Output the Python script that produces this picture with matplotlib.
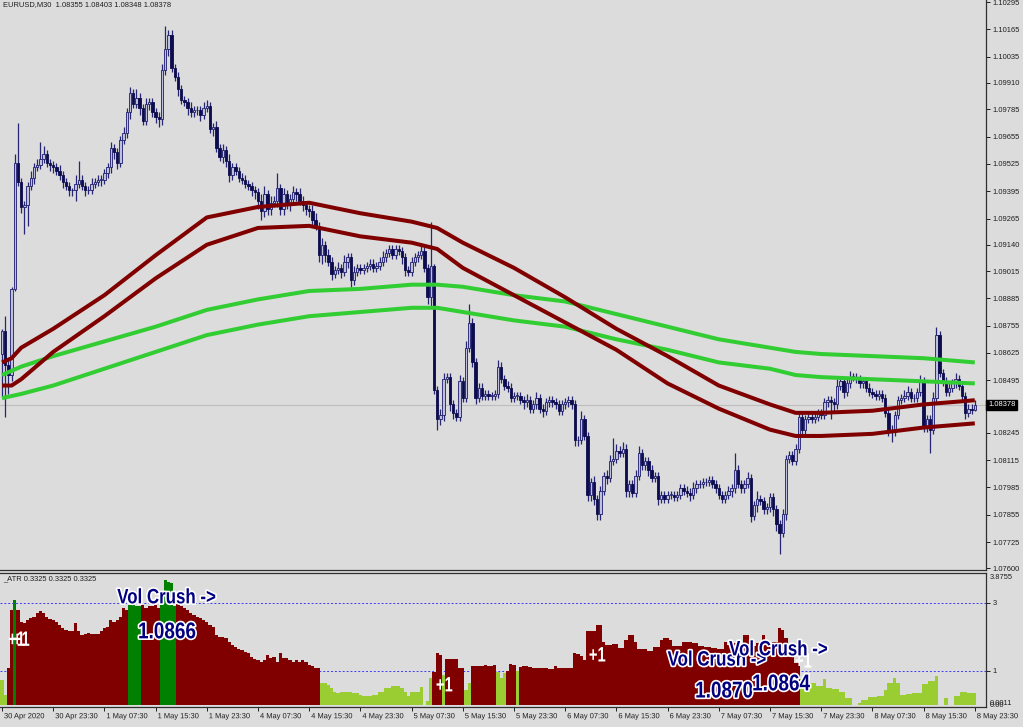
import matplotlib
matplotlib.use("Agg")
import matplotlib.pyplot as plt
import matplotlib.patheffects as pe
from matplotlib.patches import Rectangle
from matplotlib.transforms import Affine2D, ScaledTranslation
import numpy as np

# --- EURUSD M30, one value per bar: 30 Apr 15:30 .. 8 May 23:30 (305 bars) ---
first_open = 1.0862
close = [
    1.0873, 1.0857, 1.0852, 1.0893, 1.0953, 1.0944, 1.0932, 1.0933, 1.0942, 1.0946, 1.0951, 1.0952, 1.0955, 1.0957, 1.0953, 1.0952,
    1.0951, 1.0949, 1.0947, 1.0944, 1.0942, 1.0940, 1.0940, 1.0943, 1.0945, 1.0942, 1.0940, 1.0940, 1.0943, 1.0944, 1.0945, 1.0945,
    1.0948, 1.0951, 1.0960, 1.0958, 1.0953, 1.0964, 1.0967, 1.0977, 1.0986, 1.0981, 1.0984, 1.0979, 1.0973, 1.0981, 1.0982, 1.0977,
    1.0975, 1.0974, 1.0997, 1.1007, 1.1014, 1.0998, 1.0994, 1.0988, 1.0983, 1.0982, 1.0979, 1.0977, 1.0978, 1.0978, 1.0976, 1.0979,
    1.0980, 1.0969, 1.0970, 1.0960, 1.0956, 1.0959, 1.0954, 1.0947, 1.0951, 1.0949, 1.0946, 1.0945, 1.0943, 1.0942, 1.0940, 1.0939,
    1.0935, 1.0930, 1.0938, 1.0931, 1.0934, 1.0935, 1.0941, 1.0931, 1.0938, 1.0933, 1.0936, 1.0939, 1.0938, 1.0935, 1.0933, 1.0931,
    1.0930, 1.0926, 1.0923, 1.0909, 1.0914, 1.0909, 1.0906, 1.0900, 1.0902, 1.0903, 1.0901, 1.0906, 1.0908, 1.0897, 1.0901, 1.0903,
    1.0902, 1.0903, 1.0904, 1.0905, 1.0903, 1.0904, 1.0906, 1.0908, 1.0910, 1.0912, 1.0909, 1.0912, 1.0911, 1.0908, 1.0902, 1.0901,
    1.0906, 1.0908, 1.0909, 1.0911, 1.0903, 1.0889, 1.0904, 1.0845, 1.0831, 1.0833, 1.0850, 1.0851, 1.0838, 1.0834, 1.0832, 1.0849,
    1.0841, 1.0865, 1.0877, 1.0858, 1.0841, 1.0846, 1.0842, 1.0843, 1.0842, 1.0842, 1.0843, 1.0856, 1.0850, 1.0847, 1.0846, 1.0841,
    1.0842, 1.0842, 1.0840, 1.0839, 1.0840, 1.0836, 1.0838, 1.0841, 1.0836, 1.0835, 1.0839, 1.0840, 1.0839, 1.0838, 1.0835, 1.0838,
    1.0839, 1.0840, 1.0838, 1.0821, 1.0821, 1.0831, 1.0823, 1.0795, 1.0801, 1.0793, 1.0786, 1.0797, 1.0804, 1.0803, 1.0811, 1.0812,
    1.0816, 1.0815, 1.0817, 1.0797, 1.0800, 1.0796, 1.0804, 1.0815, 1.0809, 1.0811, 1.0807, 1.0803, 1.0804, 1.0793, 1.0795, 1.0793,
    1.0795, 1.0795, 1.0794, 1.0795, 1.0798, 1.0797, 1.0796, 1.0795, 1.0798, 1.0800, 1.0800, 1.0801, 1.0801, 1.0802, 1.0800, 1.0798,
    1.0795, 1.0793, 1.0795, 1.0797, 1.0798, 1.0807, 1.0800, 1.0798, 1.0800, 1.0803, 1.0785, 1.0790, 1.0793, 1.0792, 1.0788, 1.0789,
    1.0794, 1.0788, 1.0781, 1.0777, 1.0786, 1.0812, 1.0814, 1.0811, 1.0817, 1.0832, 1.0826, 1.0831, 1.0832, 1.0831, 1.0832, 1.0834,
    1.0833, 1.0839, 1.0840, 1.0839, 1.0838, 1.0847, 1.0849, 1.0844, 1.0848, 1.0851, 1.0851, 1.0850, 1.0848, 1.0849, 1.0846, 1.0844,
    1.0843, 1.0842, 1.0843, 1.0841, 1.0834, 1.0826, 1.0825, 1.0833, 1.0840, 1.0841, 1.0842, 1.0844, 1.0841, 1.0841, 1.0844, 1.0849,
    1.0827, 1.0831, 1.0826, 1.0841, 1.0871, 1.0853, 1.0849, 1.0844, 1.0846, 1.0848, 1.0850, 1.0847, 1.0842, 1.0834, 1.0836, 1.08355, 1.08378,
]
# wick length above / below the body, in pips
wick_up = [
    1, 7, 2, 1, 4, 19, 2, 2, 2, 3, 2, 3, 8, 4, 2, 2,
    2, 2, 3, 2, 2, 2, 1, 4, 9, 2, 2, 2, 3, 2, 2, 2,
    2, 2, 3, 2, 2, 2, 3, 2, 3, 2, 4, 2, 2, 3, 2, 2,
    2, 2, 3, 11, 2, 2, 2, 2, 2, 2, 2, 3, 2, 2, 2, 3,
    3, 2, 2, 3, 2, 3, 2, 3, 2, 2, 2, 2, 2, 2, 2, 2,
    2, 3, 4, 2, 3, 2, 7, 2, 3, 2, 2, 3, 2, 3, 2, 2,
    2, 3, 3, 2, 3, 2, 3, 2, 2, 3, 2, 3, 2, 2, 3, 2,
    2, 2, 2, 2, 2, 2, 2, 3, 2, 2, 2, 2, 2, 2, 2, 2,
    2, 2, 2, 4, 2, 2, 21, 1, 2, 3, 3, 2, 2, 2, 2, 3,
    2, 3, 9, 2, 2, 2, 2, 2, 2, 2, 2, 3, 2, 2, 2, 2,
    2, 2, 2, 2, 3, 2, 2, 3, 2, 2, 2, 2, 2, 2, 2, 2,
    2, 2, 2, 2, 2, 4, 2, 2, 2, 3, 2, 2, 2, 3, 3, 10,
    3, 2, 3, 2, 2, 2, 3, 3, 2, 2, 2, 2, 2, 2, 2, 2,
    2, 2, 2, 2, 2, 2, 2, 2, 3, 2, 2, 2, 2, 2, 2, 2,
    2, 2, 2, 2, 2, 8, 2, 2, 2, 3, 2, 2, 4, 2, 2, 2,
    2, 2, 2, 2, 2, 2, 2, 2, 2, 3, 2, 2, 2, 2, 2, 2,
    2, 2, 2, 2, 2, 3, 2, 2, 2, 3, 2, 2, 2, 2, 2, 2,
    2, 2, 2, 2, 2, 2, 2, 2, 2, 2, 3, 3, 2, 2, 2, 3,
    2, 2, 2, 3, 4, 2, 2, 2, 2, 2, 3, 2, 2, 2, 2, 2, 2.5,
]
wick_dn = [
    20, 25, 9, 3, 1, 2, 3, 13, 10, 2, 3, 2, 2, 2, 2, 3,
    3, 2, 2, 3, 2, 3, 3, 5, 2, 2, 3, 2, 2, 2, 2, 3,
    2, 2, 3, 3, 3, 2, 2, 2, 3, 2, 2, 3, 2, 2, 3, 2,
    3, 4, 3, 2, 3, 2, 2, 3, 2, 2, 3, 2, 2, 2, 3, 2,
    2, 2, 3, 2, 2, 3, 3, 3, 2, 2, 2, 2, 2, 2, 3, 3,
    4, 4, 3, 3, 3, 2, 3, 3, 3, 2, 3, 2, 3, 2, 3, 3,
    3, 3, 2, 3, 4, 3, 2, 3, 2, 2, 3, 2, 3, 3, 2, 2,
    2, 2, 2, 2, 2, 2, 2, 2, 2, 2, 2, 2, 2, 3, 3, 2,
    2, 2, 2, 2, 2, 3, 4, 2, 5, 3, 3, 2, 3, 3, 2, 2,
    2, 2, 2, 2, 3, 2, 2, 2, 2, 2, 2, 2, 2, 2, 2, 2,
    2, 2, 2, 3, 2, 2, 2, 2, 2, 3, 2, 2, 2, 2, 2, 2,
    2, 2, 2, 3, 3, 2, 2, 3, 3, 3, 3, 3, 2, 3, 2, 2,
    2, 2, 2, 3, 3, 2, 2, 2, 2, 2, 3, 2, 2, 3, 2, 2,
    2, 2, 2, 2, 2, 2, 2, 3, 2, 2, 2, 2, 2, 2, 2, 2,
    2, 2, 2, 2, 3, 2, 2, 2, 2, 2, 3, 2, 3, 2, 2, 2,
    2, 3, 3, 10, 2, 3, 2, 2, 2, 2, 3, 2, 2, 2, 2, 2,
    2, 2, 2, 8, 3, 2, 2, 3, 2, 2, 2, 2, 2, 2, 2, 2,
    2, 2, 2, 2, 2, 3, 5, 2, 2, 2, 2, 2, 2, 2, 2, 2,
    2, 2, 11, 2, 2, 2, 2, 2, 2, 2, 2, 2, 2, 3, 2, 2, 0.7,
]

# moving-average envelopes, read at these bars
ma_bars = [0, 3, 6, 16, 32, 48, 64, 80, 96, 112, 128, 136, 144, 160, 176, 192, 208, 224, 240, 248, 256, 272, 288, 304]
red_upper = [1.0858, 1.0860, 1.0865, 1.0874, 1.0890, 1.0909, 1.0927, 1.0932, 1.0934, 1.0929, 1.0925, 1.0922,
             1.0915, 1.0903, 1.0889, 1.0874, 1.0861, 1.0847, 1.0838, 1.0834, 1.0834, 1.0835, 1.0838, 1.0840]
red_lower = [1.0847, 1.0847, 1.0850, 1.0863, 1.0880, 1.0898, 1.0914, 1.0922, 1.0923, 1.0918, 1.0915, 1.0912,
             1.0903, 1.0890, 1.0877, 1.0864, 1.0848, 1.0836, 1.0826, 1.0823, 1.0823, 1.0824, 1.0827, 1.0829]
green_upper = [1.0852, 1.0854, 1.0856, 1.0861, 1.0868, 1.0875, 1.0883, 1.0888, 1.0892, 1.0893, 1.0895, 1.0895,
               1.0894, 1.0890, 1.0887, 1.0881, 1.0875, 1.0869, 1.0865, 1.0863, 1.0862, 1.0861, 1.0860, 1.0858]
green_lower = [1.0841, 1.0842, 1.0843, 1.0847, 1.0855, 1.0863, 1.0871, 1.0876, 1.0880, 1.0882, 1.0884, 1.0884,
               1.0882, 1.0878, 1.0875, 1.0869, 1.0864, 1.0858, 1.0855, 1.0852, 1.0851, 1.0850, 1.0849, 1.0848]

# _ATR histogram, one value per bar, and its colour state (r = high, y = low, g = crush)
atr = [
    0.74, 0.29, 1.08, 2.8, 3.1, 2.8, 2.45, 2.4, 2.5, 2.55, 2.6, 2.7, 2.75, 2.7, 2.6, 2.52,
    2.5, 2.45, 2.35, 2.25, 2.2, 2.16, 2.16, 2.4, 2.16, 2.06, 2.1, 2.13, 2.09, 2.09, 2.1, 2.16,
    2.25, 2.3, 2.5, 2.45, 2.5, 2.6, 2.84, 2.8, 2.94, 2.94, 2.9, 2.9, 2.94, 2.84, 2.9, 2.9,
    2.94, 2.84, 3.33, 3.68, 3.63, 3.58, 2.9, 3.0, 2.9, 2.84, 2.8, 2.7, 2.65, 2.6, 2.55, 2.5,
    2.45, 2.35, 2.3, 2.06, 2.0, 1.99, 1.96, 1.86, 1.76, 1.7, 1.64, 1.62, 1.57, 1.52, 1.42, 1.34,
    1.32, 1.27, 1.32, 1.47, 1.37, 1.42, 1.27, 1.52, 1.37, 1.37, 1.32, 1.27, 1.32, 1.27, 1.32, 1.27,
    1.18, 1.15, 1.08, 1.08, 0.64, 0.64, 0.59, 0.49, 0.39, 0.34, 0.39, 0.39, 0.39, 0.39, 0.34, 0.34,
    0.29, 0.26, 0.26, 0.26, 0.29, 0.29, 0.39, 0.39, 0.49, 0.49, 0.56, 0.56, 0.56, 0.49, 0.39, 0.25,
    0.39, 0.39, 0.39, 0.52, 0.0, 0.13, 0.78, 0.98, 1.52, 1.47, 0.88, 1.34, 1.34, 1.34, 1.34, 1.08,
    1.08, 0.44, 0.64, 1.15, 1.15, 1.15, 1.15, 1.17, 1.15, 1.15, 1.18, 0.98, 0.78, 0.93, 1.0, 1.2,
    1.18, 1.0, 1.13, 1.15, 1.15, 1.12, 1.1, 1.1, 1.08, 1.08, 1.08, 1.05, 1.05, 1.15, 1.1, 1.08,
    1.08, 1.08, 1.08, 1.54, 1.5, 1.44, 1.32, 2.18, 2.16, 2.16, 2.35, 2.35, 1.86, 1.76, 1.76, 1.78,
    1.78, 1.67, 1.67, 1.91, 2.06, 2.06, 1.86, 1.64, 1.64, 1.64, 1.6, 1.6, 1.69, 1.69, 1.91, 1.96,
    1.96, 1.91, 1.72, 1.72, 1.72, 1.86, 1.86, 1.86, 1.81, 1.81, 1.74, 1.74, 1.7, 1.7, 1.67, 1.67,
    1.64, 1.64, 1.86, 1.76, 1.76, 1.81, 1.81, 1.81, 2.06, 2.06, 1.91, 1.72, 1.81, 1.81, 2.06, 1.76,
    1.76, 1.86, 1.86, 2.25, 2.2, 1.96, 1.4, 1.4, 1.22, 1.22, 0.75, 0.75, 0.69, 0.64, 0.64, 0.56,
    0.56, 0.75, 0.49, 0.49, 0.46, 0.46, 0.39, 0.39, 0.2, 0.2, 0.0, 0.0, 0.07, 0.15, 0.15, 0.23,
    0.23, 0.23, 0.26, 0.26, 0.44, 0.66, 0.66, 0.78, 0.64, 0.29, 0.29, 0.32, 0.32, 0.34, 0.34, 0.34,
    0.62, 0.62, 0.69, 0.69, 0.85, 0.0, 0.0, 0.2, 0.0, 0.0, 0.26, 0.26, 0.39, 0.39, 0.34, 0.34, 0.34,
]
atr_state = (
    "yyrrgrrrrrrrrrrr" "rrrrrrrrrrrrrrrr" "rrrrrrrrggggrrrr" "rrgggggrrrrrrrrr"
    "rrrrrrrrrrrrrrrr" "rrrrrrrrrrrrrrrr" "rrrryyyyyyyyyyyy" "yyyyyyyyyyyyyyyy"
    "yyyyyyyrrryrrrrr" "ryyrrrrrrrryyyrr" "ryrrrrrrrrrrrrrr" "rrrrrrrrrrrrrrrr"
    "rrrrrrrrrrrrrrrr" "rrrrrrrrrrrrrrrr" "rrrrrrrrrrrrrrrr" "rrrrrrrrrryyyyyy"
    "yyyyyyyyyyyyyyyy" "yyyyyyyyyyyyyyyy" "yyyyyyyyyyyyyyyyy"
)

price_ticks = [1.10295, 1.10165, 1.10035, 1.09910, 1.09785, 1.09655, 1.09525, 1.09395, 1.09265, 1.09140,
               1.09015, 1.08885, 1.08755, 1.08625, 1.08495, 1.08245, 1.08115, 1.07985, 1.07855, 1.07725, 1.07600]
last_price = 1.08378
time_bars = list(range(0, 305, 16))
time_labels = ["30 Apr 2020", "30 Apr 23:30", "1 May 07:30", "1 May 15:30", "1 May 23:30", "4 May 07:30",
               "4 May 15:30", "4 May 23:30", "5 May 07:30", "5 May 15:30", "5 May 23:30", "6 May 07:30",
               "6 May 15:30", "6 May 23:30", "7 May 07:30", "7 May 15:30", "7 May 23:30", "8 May 07:30",
               "8 May 15:30", "8 May 23:30"]

# signal labels drawn by the indicator: (bar, level, text, kind)
signals = [
    (1.9, 1.9, "+1", "plus"), (3.4, 1.9, "+1", "plus"),
    (36.0, 3.15, "Vol Crush ->", "crush"), (42.5, 2.15, "1.0866", "price"),
    (135.6, 0.56, "+1", "plus"), (183.4, 1.44, "+1", "plus"), (247.8, 1.26, "+1", "plus"),
    (208.0, 1.32, "Vol Crush ->", "crush"), (216.6, 0.41, "1.0870", "price"),
    (227.2, 1.62, "Vol Crush ->", "crush"), (234.4, 0.62, "1.0864", "price"),
]


class Squeeze(pe.AbstractPathEffect):
    """Draw text glyphs narrower (MT4 uses condensed fonts), optionally with a halo."""

    def __init__(self, sx, halo=None, lw=0.0):
        super().__init__()
        self.sx, self.halo, self.lw = sx, halo, lw

    def draw_path(self, renderer, gc, tpath, affine, rgbFace=None):
        x0 = affine.get_matrix()[0, 2]
        aff = affine + Affine2D().translate(-x0, 0).scale(self.sx, 1).translate(x0, 0)
        if self.halo:
            gc0 = renderer.new_gc()
            gc0.copy_properties(gc)
            gc0.set_foreground(self.halo)
            gc0.set_linewidth(self.lw)
            renderer.draw_path(gc0, tpath, aff, rgbFace)
            gc0.restore()
        renderer.draw_path(gc, tpath, aff, rgbFace)


# --- figure ---
plt.rcParams['font.family'] = ['Liberation Sans', 'DejaVu Sans']
BG = "#dcdcdc"
INK = "#1e1e1e"
W, H = 1023, 727
fig = plt.figure(figsize=(W / 100, H / 100), dpi=100, facecolor=BG)
renderer = fig.canvas.get_renderer()


def natural_width(text, size, weight="normal"):
    t = fig.text(0, 0, text, fontsize=size, fontweight=weight)
    w = t.get_window_extent(renderer).width
    t.remove()
    return w


def px_axes(x0, y0, x1, y1):
    return fig.add_axes([x0 / W, 1 - y1 / H, (x1 - x0) / W, (y1 - y0) / H], facecolor=BG)


ax = px_axes(0, 0, 986, 570)
ax2 = px_axes(0, 573, 986, 707)

n = len(close)
x = np.arange(n)
c = np.array(close)
o = np.r_[first_open, c[:-1]]
hi = np.maximum(o, c) + np.array(wick_up) * 1e-4
lo = np.minimum(o, c) - np.array(wick_dn) * 1e-4

ax.axhline(last_price, color="#bdbdbd", lw=0.8, zorder=1)
ax.vlines(x, lo, hi, color="#262674", lw=0.9, zorder=2)
for i in range(n):
    bottom = min(o[i], c[i])
    height = max(abs(c[i] - o[i]), 0.00003)
    if c[i] >= o[i]:
        fc, ec = "#bebedd", "#1c1c70"
    else:
        fc, ec = "#0c0c4e", "#0c0c4e"
    ax.add_patch(Rectangle((i - 0.37, bottom), 0.74, height, facecolor=fc, edgecolor=ec, lw=0.6, zorder=3))

for vals, col in [(green_upper, "#32cd32"), (green_lower, "#32cd32"),
                  (red_upper, "#800000"), (red_lower, "#800000")]:
    ax.plot(ma_bars, vals, color=col, lw=2.9, solid_capstyle="butt", solid_joinstyle="round", zorder=4)

ax.set_xlim(-0.625, 307.5)
ax.set_ylim(1.07592, 1.10305)
ax.set_xticks([])
ax.yaxis.tick_right()
ax.set_yticks(price_ticks)
ax.set_yticklabels([f"{p:.5f}" for p in price_ticks])
ax.tick_params(axis="y", length=3, width=0.7, pad=1.5, labelsize=5.4, colors=INK)
for s in ["left", "top"]:
    ax.spines[s].set_visible(False)
for s in ["right", "bottom"]:
    ax.spines[s].set_color("#303030")
    ax.spines[s].set_linewidth(0.9)
ax.text(1.002, last_price, f"{last_price:.5f}", transform=ax.get_yaxis_transform(), ha="left", va="center",
        fontsize=5.4, color="white", bbox=dict(facecolor="black", edgecolor="black", pad=1.2), zorder=10, clip_on=False)

# --- indicator panel ---
palette = {"r": "#800000", "y": "#9acd32", "g": "#008000"}
ax2.bar(x, atr, width=1.0, color=[palette[k] for k in atr_state], linewidth=0, zorder=2)
for lvl in (3, 1):
    ax2.axhline(lvl, color="#3a3aff", lw=0.7, ls=(0, (2, 2)), zorder=1)
ax2.set_xlim(-0.625, 307.5)
ax2.set_ylim(-0.06, 3.88)
ax2.yaxis.tick_right()
ax2.set_yticks([3, 1])
ax2.set_yticklabels(["3", "1"])
ax2.tick_params(axis="y", length=3, width=0.7, pad=1.5, labelsize=5.4, colors=INK)

time_size = 5.4
time_squeeze = min(1.0, 43 / natural_width("30 Apr 23:30", time_size))
ax2.set_xticks(time_bars)
ax2.set_xticklabels(time_labels, ha="left", fontsize=time_size)
ax2.tick_params(axis="x", length=3, width=0.7, pad=1.5, colors=INK)
shift = ScaledTranslation(2 / 100, 0, fig.dpi_scale_trans)
for lbl in ax2.get_xticklabels():
    lbl.set_transform(lbl.get_transform() + shift)
    lbl.set_path_effects([Squeeze(time_squeeze)])
ax2.spines["left"].set_visible(False)
for s in ["right", "bottom", "top"]:
    ax2.spines[s].set_color("#303030")
    ax2.spines[s].set_linewidth(0.9)
ytr = ax2.get_yaxis_transform()
ax2.text(1.004, 3.76, "3.8755", transform=ytr, ha="left", va="center", fontsize=5.4, color=INK, clip_on=False)
ax2.text(1.004, 0.03, "0.0011", transform=ytr, ha="left", va="center", fontsize=5.4, color=INK, clip_on=False)
ax2.text(1.004, -0.03, "0.00", transform=ytr, ha="left", va="center", fontsize=5.4, color=INK, clip_on=False)

# text style per signal kind: font size, target width in px, colour, halo
styles = {
    "crush": (15.0, 99, "#000080", "white"),
    "price": (16.5, 58, "#000080", "white"),
    "plus": (15.0, 17, "white", None),
}
for xb, yv, s, kind in signals:
    size, target, col, halo = styles[kind]
    sx = min(1.0, target * len(s) / len(s) / natural_width(
        {"crush": "Vol Crush ->", "price": "1.0866", "plus": "+1"}[kind], size, "bold"))
    ax2.text(xb, yv, s, ha="left", va="center", fontsize=size, fontweight="bold", color=col,
             path_effects=[Squeeze(sx, halo, 2.4)], zorder=6, clip_on=False)

fig.text(3 / W, 1 - 5 / H, "EURUSD,M30  1.08355 1.08403 1.08348 1.08378", ha="left", va="center",
         fontsize=5.4, color=INK)
fig.text(3 / W, 1 - 579 / H, "_ATR 0.3325 0.3325 0.3325", ha="left", va="center", fontsize=5.4, color=INK)

fig.savefig("out.png", dpi=100, facecolor=BG)
